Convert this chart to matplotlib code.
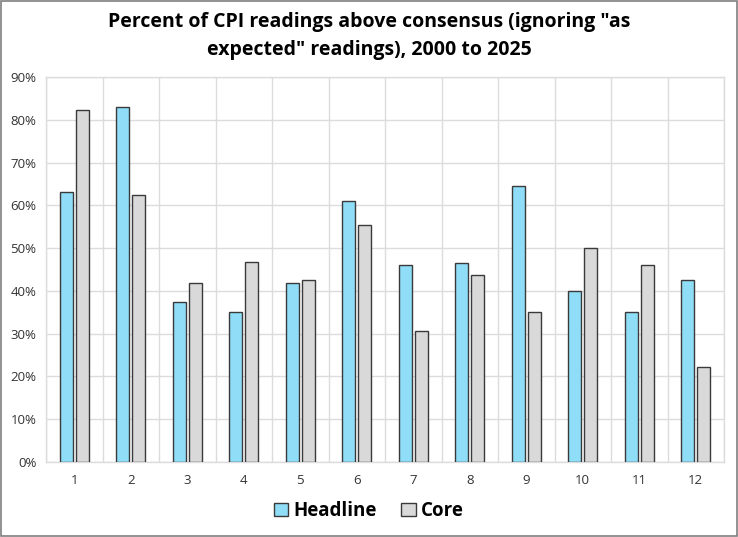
import numpy as np
import matplotlib.pyplot as plt
from matplotlib.ticker import PercentFormatter, FixedLocator
from matplotlib.patches import Rectangle

# Percent of CPI readings above consensus, by month
months = [str(m) for m in range(1, 13)]
headline = [63.2, 83.1, 37.4, 35.1, 41.9, 61.0, 46.1, 46.5, 64.6, 40.0, 35.1, 42.6]
core = [82.2, 62.4, 41.9, 46.8, 42.6, 55.4, 30.6, 43.6, 35.1, 50.0, 46.1, 22.1]

blue = '#8FDDF7'
grey = '#D9D9D9'
edge = '#3a3a3a'
grid = '#DCDCDC'

plt.rcParams['font.family'] = ['Open Sans', 'DejaVu Sans']

fig = plt.figure(figsize=(7.38, 5.37), dpi=100)
# axes in pixel coords: left 46, right 724, top 77, bottom 462
W, H = 738, 537
ax = fig.add_axes([46 / W, 1 - 462 / H, (724 - 46) / W, (462 - 77) / H])

x = np.arange(len(months))
bw = 0.23
off = 0.145
ax.bar(x - off, headline, bw, color=blue, edgecolor=edge, linewidth=1.0,
       label='Headline', zorder=3)
ax.bar(x + off, core, bw, color=grey, edgecolor=edge, linewidth=1.0,
       label='Core', zorder=3)

ax.set_xlim(-0.5, len(months) - 0.5)
ax.set_ylim(0, 90)
ax.set_yticks(np.arange(0, 91, 10))
ax.yaxis.set_major_formatter(PercentFormatter(decimals=0))
ax.set_xticks(x)
ax.set_xticklabels(months)
ax.xaxis.set_minor_locator(FixedLocator(np.arange(-0.5, len(months), 1)))

ax.grid(True, axis='y', color=grid, linewidth=1, zorder=0)
ax.grid(True, axis='x', which='minor', color=grid, linewidth=1, zorder=0)
ax.tick_params(axis='both', which='both', length=0, labelsize=9.5,
               colors='#333333', pad=7)
ax.tick_params(axis='x', pad=9)
for s in ax.spines.values():
    s.set_color(grid)
    s.set_linewidth(1)

fig.text(0.5, 1 - 22 / H, 'Percent of CPI readings above consensus (ignoring "as',
         ha='center', va='center', fontsize=14, fontweight='bold')
fig.text(0.5, 1 - 50 / H, 'expected" readings), 2000 to 2025',
         ha='center', va='center', fontsize=14, fontweight='bold')

leg = fig.legend(loc='center', bbox_to_anchor=(0.5, 1 - 511 / H), ncol=2,
                 frameon=False, prop={'size': 13.5, 'weight': 'bold'},
                 handlelength=0.75, handleheight=0.75, handletextpad=0.3,
                 columnspacing=1.3)

# outer border
fig.patches.append(Rectangle((0.0007, 0.001), 0.9986, 0.998, transform=fig.transFigure,
                             fill=False, edgecolor='#7f7f7f', linewidth=1.2))

fig.savefig('out.png', dpi=100)
